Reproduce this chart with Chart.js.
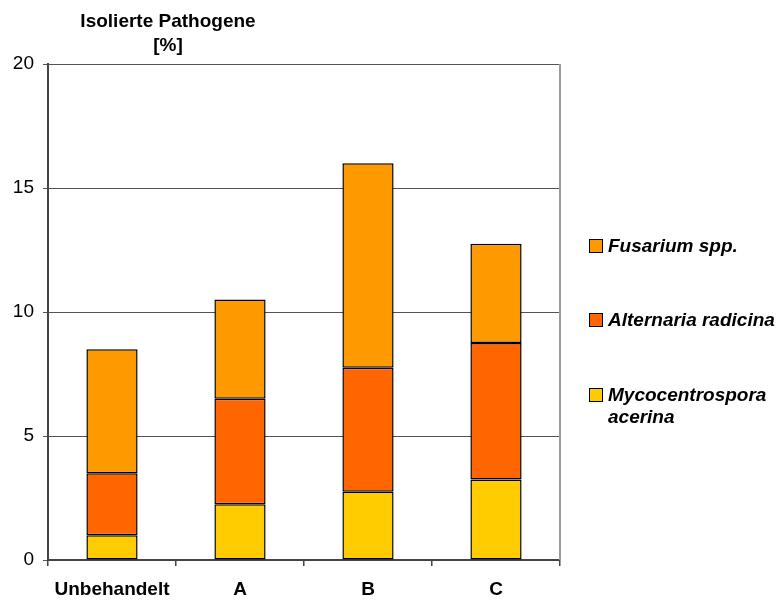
<!DOCTYPE html>
<html>
<head>
<meta charset="utf-8">
<script src="https://cdn.jsdelivr.net/npm/chart.js@4/dist/chart.umd.min.js"></script>
<style>
  html, body { margin: 0; padding: 0; background: #fff; }
  #wrap { width: 781px; height: 600px; }
</style>
</head>
<body>
<div id="wrap"><canvas id="c" width="781" height="600"></canvas></div>
<script>
// Categories (treatments) and isolated pathogens per treatment, in percent
const categories = ['Unbehandelt', 'A', 'B', 'C'];
const mycocentrospora = [1, 2.25, 2.75, 3.25];
const alternaria = [2.5, 4.25, 5, 5.5];
const fusarium = [5, 4, 8.25, 4];
const yTicks = [0, 5, 10, 15, 20];

const seriesNames = ['Mycocentrospora\nacerina', 'Alternaria radicina', 'Fusarium spp.'];
const seriesColors = ['#FFCC00', '#FF6600', '#FF9900'];

const FONT = '"Liberation Sans", Arial, Helvetica, sans-serif';

// Two-line y-axis caption above the plot
const captionPlugin = {
  id: 'caption',
  afterDraw(chart) {
    const ctx = chart.ctx;
    ctx.save();
    ctx.fillStyle = '#000';
    ctx.font = 'bold 19px ' + FONT;
    ctx.textAlign = 'center';
    ctx.textBaseline = 'alphabetic';
    const cx = 168;
    ctx.fillText('Isolierte Pathogene', cx, 27);
    ctx.fillText('[%]', cx, 51);
    ctx.restore();
  }
};

// Right border of the plot area
const frameRightPlugin = {
  id: 'frameRight',
  beforeDatasetsDraw(chart) {
    const { ctx, chartArea: a } = chart;
    ctx.save();
    ctx.strokeStyle = '#9a9a9a';
    ctx.lineWidth = 2;
    ctx.beginPath();
    ctx.moveTo(a.right, a.top);
    ctx.lineTo(a.right, a.bottom);
    ctx.stroke();
    ctx.restore();
  }
};

// Legend at the right, top series first, with multi-line labels
const sideLegendPlugin = {
  id: 'sideLegend',
  afterDraw(chart) {
    const ctx = chart.ctx;
    const ds = chart.data.datasets;
    const x0 = chart.chartArea.right + 29;
    const centers = [246, 320, 395];
    ctx.save();
    ctx.font = 'italic bold 19px ' + FONT;
    ctx.textBaseline = 'middle';
    ctx.textAlign = 'left';
    for (let k = 0; k < ds.length; k++) {
      const d = ds[ds.length - 1 - k];
      const cy = centers[k];
      ctx.fillStyle = d.backgroundColor;
      ctx.fillRect(x0, cy - 7, 14, 14);
      ctx.strokeStyle = '#000';
      ctx.lineWidth = 1;
      ctx.strokeRect(x0 + 0.5, cy - 6.5, 13, 13);
      ctx.fillStyle = '#000';
      const lines = d.label.split('\n');
      lines.forEach((ln, i) => ctx.fillText(ln, x0 + 19, cy + 1 + i * 22));
    }
    ctx.restore();
  }
};

new Chart(document.getElementById('c'), {
  type: 'bar',
  data: {
    labels: categories,
    datasets: [
      { label: seriesNames[0], data: mycocentrospora, backgroundColor: seriesColors[0] },
      { label: seriesNames[1], data: alternaria, backgroundColor: seriesColors[1] },
      { label: seriesNames[2], data: fusarium, backgroundColor: seriesColors[2] }
    ].map(d => Object.assign(d, {
      borderColor: '#000',
      borderWidth: 1.5,
      borderSkipped: false,
      categoryPercentage: 1,
      barPercentage: 0.4
    }))
  },
  options: {
    responsive: false,
    animation: false,
    devicePixelRatio: 1,
    layout: { padding: { top: 64, right: 221, left: 0, bottom: 0 } },
    plugins: {
      legend: { display: false },
      tooltip: { enabled: false },
      title: { display: false }
    },
    scales: {
      x: {
        stacked: true,
        afterFit(scale) { scale.height = 40; },
        grid: {
          offset: true,
          drawOnChartArea: false,
          drawTicks: true,
          tickLength: 6,
          color: '#444',
          lineWidth: 1.5
        },
        border: { color: '#444', width: 2 },
        ticks: {
          color: '#000',
          padding: 12,
          font: { family: FONT, size: 19, weight: 'bold' }
        }
      },
      y: {
        stacked: true,
        min: 0,
        max: 20,
        afterFit(scale) { scale.width = 48; },
        afterBuildTicks(scale) { scale.ticks = yTicks.map(v => ({ value: v })); },
        grid: {
          drawOnChartArea: true,
          drawTicks: true,
          tickLength: 5,
          color: '#555',
          lineWidth: 1
        },
        border: { color: '#444', width: 2 },
        ticks: {
          color: '#000',
          padding: 9,
          font: { family: FONT, size: 19 }
        }
      }
    }
  },
  plugins: [frameRightPlugin, captionPlugin, sideLegendPlugin]
});
</script>
</body>
</html>
